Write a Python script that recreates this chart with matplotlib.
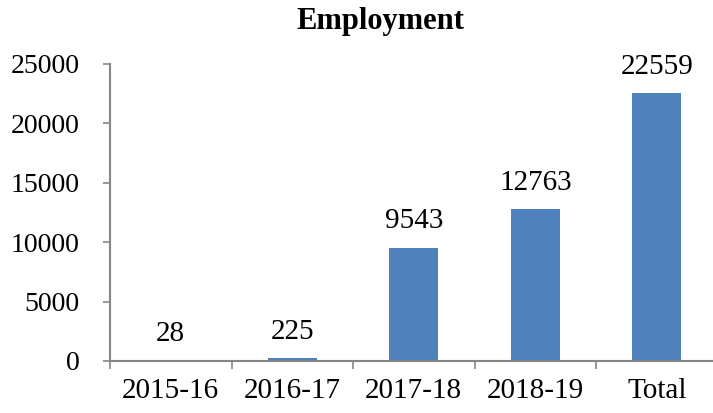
"""Employment bar chart, Excel-style."""

import matplotlib
matplotlib.use("Agg")
import matplotlib.pyplot as plt
import numpy as np

CATEGORIES = ["2015-16", "2016-17", "2017-18", "2018-19", "Total"]
VALUES = [28, 225, 9543, 12763, 22559]
Y_TICKS = [0, 5000, 10000, 15000, 20000, 25000]

BAR_COLOR = "#4F81BD"
AXIS_COLOR = "#868686"
FONT = ["Liberation Serif", "DejaVu Serif"]

plt.rcParams["font.family"] = FONT

fig = plt.figure(figsize=(7.13, 4.13), dpi=100)
ax = fig.add_axes([110 / 713, 52 / 413, 607.5 / 713, 297 / 413])

x = np.arange(len(CATEGORIES))
ax.bar(x, VALUES, width=0.4, color=BAR_COLOR, zorder=2)

for xi, v in zip(x, VALUES):
    ax.annotate(str(v), (xi, v), xytext=(0, 19), textcoords="offset points",
                ha="center", va="center", fontsize=21, color="black")

ax.set_xlim(-0.5, len(CATEGORIES) - 0.5)
ax.set_ylim(0, 25000)
ax.set_yticks(Y_TICKS)
ax.set_yticklabels([str(t) for t in Y_TICKS])
ax.set_xticks(x)
ax.set_xticklabels(CATEGORIES)
ax.set_xticks(np.arange(len(CATEGORIES) + 1) - 0.5, minor=True)

ax.tick_params(axis="y", direction="out", length=5, width=1.2,
               color=AXIS_COLOR, labelsize=20, pad=17)
ax.tick_params(axis="x", which="major", length=0, labelsize=21, pad=12.5)
ax.tick_params(axis="x", which="minor", direction="out", length=6,
               width=1.2, color=AXIS_COLOR)

for side in ["top", "right"]:
    ax.spines[side].set_visible(False)
for side in ["left", "bottom"]:
    ax.spines[side].set_color(AXIS_COLOR)
    ax.spines[side].set_linewidth(1.5)

fig.text(380 / 713, 1 - 22 / 413, "Employment", ha="center", va="center",
         fontsize=22, fontweight="bold")

fig.savefig("out.png", dpi=100)
